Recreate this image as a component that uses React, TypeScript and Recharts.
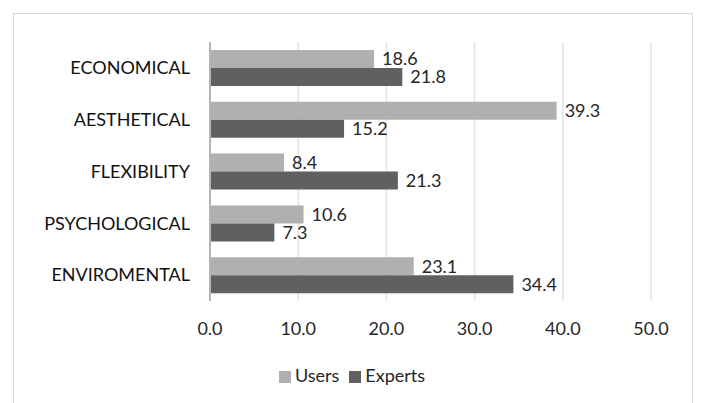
import { BarChart, Bar, XAxis, YAxis, CartesianGrid, Legend, LabelList } from "recharts";

const categories = ["ECONOMICAL", "AESTHETICAL", "FLEXIBILITY", "PSYCHOLOGICAL", "ENVIROMENTAL"];
const users = [18.6, 39.3, 8.4, 10.6, 23.1];
const experts = [21.8, 15.2, 21.3, 7.3, 34.4];
const xTicks = [0, 10, 20, 30, 40, 50];
const seriesOrder = ["Users", "Experts"];

const USERS_COLOR = "#b0b0b0";
const EXPERTS_COLOR = "#606060";
const TEXT = "#262626";

const data = categories.map((name, i) => ({ name, users: users[i], experts: experts[i] }));

const fmt = (v: unknown) => Number(v).toFixed(1);

export default function App() {
  return (
    <div
      style={{
        position: "relative",
        marginLeft: 5,
        marginTop: 5,
        width: 680,
        height: 400,
        border: "1px solid #d9d9d9",
        boxSizing: "border-box",
        background: "#fff",
        fontFamily: "Lato, sans-serif",
      }}
    >
      <BarChart
        width={678}
        height={398}
        data={data}
        layout="vertical"
        margin={{ top: 28, right: 41, left: 0, bottom: 49 }}
        barGap={0}
      >
        <CartesianGrid horizontal={false} stroke="#e4e4e4" strokeWidth={1.5} />
        <XAxis
          type="number"
          domain={[0, 50]}
          ticks={xTicks}
          tickFormatter={fmt}
          axisLine={false}
          tickLine={false}
          tickSize={0}
          tickMargin={21}
          height={40}
          tick={{ fontSize: 18, fill: TEXT }}
        />
        <YAxis
          type="category"
          dataKey="name"
          width={196}
          axisLine={{ stroke: "#b4b4b4", strokeWidth: 2 }}
          tickLine={false}
          tickSize={0}
          tickMargin={20}
          tick={{ fontSize: 18, fill: "#111" }}
        />
        <Legend
          iconType="square"
          iconSize={12}
          itemSorter={(item: { value?: string }) => seriesOrder.indexOf(String(item.value))}
          wrapperStyle={{ position: "absolute", top: 350, left: 4, width: 678, fontSize: 18 }}
          formatter={(value: string) => <span style={{ color: TEXT }}>{value}</span>}
        />
        <Bar dataKey="users" name="Users" fill={USERS_COLOR} barSize={18} isAnimationActive={false}>
          <LabelList dataKey="users" position="right" offset={8} formatter={fmt} style={{ fontSize: 18, fill: TEXT }} />
        </Bar>
        <Bar dataKey="experts" name="Experts" fill={EXPERTS_COLOR} barSize={18} isAnimationActive={false}>
          <LabelList dataKey="experts" position="right" offset={8} formatter={fmt} style={{ fontSize: 18, fill: TEXT }} />
        </Bar>
      </BarChart>
    </div>
  );
}
